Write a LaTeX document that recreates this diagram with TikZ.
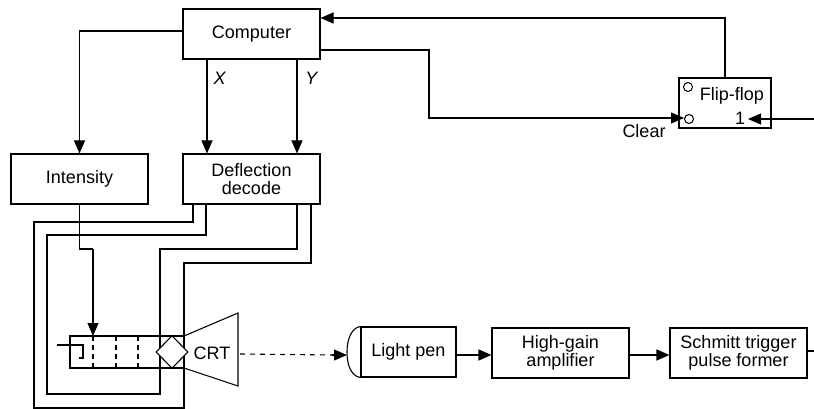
\documentclass[tikz,border=0pt]{standalone}
\usepackage{fontspec}
\setmainfont{Liberation Sans}
\usetikzlibrary{positioning, arrows.meta, calc, shapes.geometric}

\begin{document}
\begin{tikzpicture}[
    x=1pt, y=-1pt,
    font=\fontsize{18}{18}\selectfont,
    blk/.style={rectangle, draw, line width=1.1pt, minimum width=137pt, minimum height=50pt, align=center, inner sep=1pt},
    wire/.style={line width=1.1pt},
    ar/.style={-{Triangle[length=13pt,width=11pt]}, line width=1.1pt},
    pin/.style={circle, draw, line width=1pt, minimum size=9pt, inner sep=0pt}
]
\useasboundingbox (0,0) rectangle (814,409);
\node[blk] (computer) at (251.5,34) {Computer};
\node[blk] (intensity) at (79.5,179) {Intensity};
\node[blk] (decode) at (251.5,179) {Deflection\\decode};
\node[blk, minimum width=92pt] (flipflop) at (725,103) {};
\node[inner sep=0pt] (fflabel) at (732,96) {Flip-flop};
\node[inner sep=0pt] (one) at (740,118) {1};
\node[pin] (setpin) at (688,87) {};
\node[pin] (clearpin) at (689,119) {};
\node[inner sep=0pt] (clear) at (644,131) {Clear};
\node[inner sep=0pt] (xlabel) at (220,78) {\textit{X}};
\node[inner sep=0pt] (ylabel) at (312,78) {\textit{Y}};

% tube
\node[rectangle, draw, line width=1.1pt, minimum width=114pt, minimum height=32pt, inner sep=0pt] (tube) at (127,352) {};
\node[inner sep=0pt] (crt) at (212,353) {CRT};
\coordinate (conetl) at (184,336);
\coordinate (conetr) at (238,313);
\coordinate (conebr) at (238,386);
\coordinate (conebl) at (184,368);
\draw[wire] (conetl) -- (conetr) -- (conebr) -- (conebl);
\foreach \xd in {93,116,138}
    \draw[wire, dash pattern=on 5pt off 4pt] (\xd,336) -- (\xd,368);
\coordinate (heater) at (57,345);
\draw[wire] (heater) -- (83,345) -- (83,358) -- (79,358);

% light pen chain
\node[blk, minimum width=95pt] (pen) at (408.5,352) {Light pen};
\node[blk] (amp) at (560.5,353) {High-gain\\amplifier};
\node[blk] (schmitt) at (738.5,353) {Schmitt trigger\\pulse former};
\draw[wire] (pen.north west) .. controls (351,328) and (347,340) .. (347,352) .. controls (347,365) and (351,376) .. (pen.south west);
\coordinate (peneye) at (347,355);
\coordinate (conetip) at (240,354);
\coordinate (pentail) at (332,355);
\draw[wire, dash pattern=on 5pt off 5pt] (conetip) -- (pentail);
\draw[ar] (pentail) -- (peneye);
\draw[ar] (pen.east |- 0,355) -- (amp.west |- 0,355);
\draw[ar] (amp.east |- 0,355) -- (schmitt.west |- 0,355);
\coordinate (schmittout) at (814,351);
\draw[wire] (schmitt.east |- schmittout) -- (schmittout);

% computer and flip-flop
\coordinate (ffin) at (814,119);
\draw[ar] (ffin) -- (748,119);
\draw[ar] (flipflop.north) -- (725,18) -- (computer.east |- 0,18);
\draw[ar] (computer.east |- 0,50) -- (429,50) -- (429,118) -- (clearpin.west |- 0,118);
\draw[ar] (computer.west |- 0,31) -- (79.5,31) -- (intensity.north);
\draw[ar] (computer.south -| 207,0) -- (decode.north -| 207,0);
\draw[ar] (computer.south -| 297,0) -- (decode.north -| 297,0);

% deflection wiring
\draw[wire] (decode.south -| 193,0) -- (193,222) -- (34,222) -- (34,408) -- (184,408) -- (184,263) -- (311,263) -- (decode.south -| 311,0);
\draw[wire] (decode.south -| 206,0) -- (206,235) -- (47,235) -- (47,394) -- (160,394) -- (160,249) -- (297,249) -- (decode.south -| 297,0);
\draw[wire] (intensity.south) -- (79.5,249) -- (93,249);
\draw[ar] (93,249) -- (93,336);
\node[diamond, draw, fill=white, line width=1.1pt, minimum width=32pt, minimum height=33pt, inner sep=0pt] (yoke) at (172,352) {};
\end{tikzpicture}
\end{document}
